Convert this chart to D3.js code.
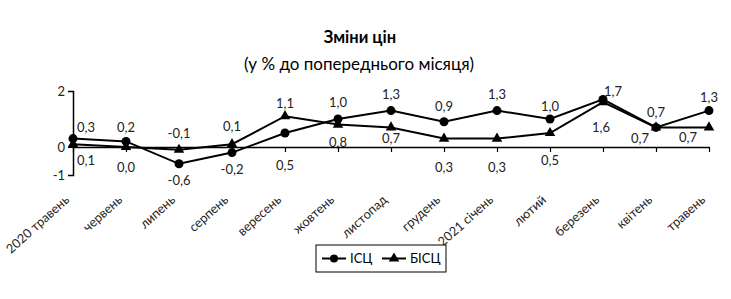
<!DOCTYPE html>
<html lang="uk">
<head>
<meta charset="UTF-8">
<title>Зміни цін</title>
<style>
  body { margin: 0; background: #fff; font-family: Lato, 'Open Sans', sans-serif; }
  svg { display: block; }
  .val { font-size: 13px; fill: #222; }
  .cat { font-size: 12.8px; fill: #222; }
</style>
</head>
<body>
<svg id="chart" width="731" height="299"></svg>
<script src="https://d3js.org/d3.v7.min.js"></script>
<script>
// data
const months = ["2020 травень", "червень", "липень", "серпень", "вересень", "жовтень",
  "листопад", "грудень", "2021 січень", "лютий", "березень", "квітень", "травень"];
const cpi  = [0.3, 0.2, -0.6, -0.2, 0.5, 1.0, 1.3, 0.9, 1.3, 1.0, 1.7, 0.7, 1.3];   // ІСЦ
const bcpi = [0.1, 0.0, -0.1, 0.1, 1.1, 0.8, 0.7, 0.3, 0.3, 0.5, 1.6, 0.7, 0.7];    // БІСЦ
const yTicks = [-1, 0, 2];

const svg = d3.select("#chart");
const fmt = v => v.toFixed(1).replace(".", ",");

const x = d3.scalePoint().domain(months).range([73, 709]);
const y = d3.scaleLinear().domain([-1, 2]).range([175, 91]);

// title
svg.append("text").attr("x", 360).attr("y", 43).attr("text-anchor", "middle")
  .attr("font-size", 16.5).attr("font-weight", "bold").text("Зміни цін");
svg.append("text").attr("x", 359).attr("y", 70).attr("text-anchor", "middle")
  .attr("font-size", 17).text("(у % до попереднього місяця)");

// y axis
const yAxis = svg.append("g").attr("transform", "translate(73,0)")
  .call(d3.axisLeft(y).tickValues(yTicks).tickSize(5).tickFormat(d => d));
yAxis.select(".domain").attr("stroke", "#000").attr("stroke-width", 1.5);
yAxis.selectAll("text").attr("font-size", 13).attr("font-family", "Lato, sans-serif").attr("fill", "#222");

// x axis along zero
const xAxis = svg.append("g").attr("transform", `translate(0,${y(0)})`)
  .call(d3.axisBottom(x).tickSize(5).tickSizeOuter(0).tickFormat(""));
xAxis.select(".domain").attr("stroke", "#000").attr("stroke-width", 1.5);
xAxis.selectAll(".tick line").attr("stroke", "#000").attr("stroke-width", 1.2);

// category labels, rotated
svg.append("g").selectAll("text").data(months).join("text")
  .attr("class", "cat")
  .attr("text-anchor", "end")
  .attr("transform", d => `translate(${x(d) - 3},${y(-1) + 26}) rotate(-42)`)
  .text(d => d);

// lines
const line = arr => d3.line().x((d, i) => x(months[i])).y(d => y(d))(arr);
svg.append("path").attr("d", line(bcpi)).attr("fill", "none").attr("stroke", "#000").attr("stroke-width", 2);
svg.append("path").attr("d", line(cpi)).attr("fill", "none").attr("stroke", "#000").attr("stroke-width", 2);

const tri = d3.symbol().type(d3.symbolTriangle).size(48);
svg.append("g").selectAll("path").data(bcpi).join("path")
  .attr("d", tri).attr("transform", (d, i) => `translate(${x(months[i])},${y(d)})`);
svg.append("g").selectAll("circle").data(cpi).join("circle")
  .attr("cx", (d, i) => x(months[i])).attr("cy", d => y(d)).attr("r", 4.5);

// value labels: higher series above, lower below (offsets as placed in the original)
const aboveDx = [13, 0, 0, 0, 0, 0, 0, 0, 0, 0, 10, 0, 0];
const belowDx = [13, 0, 0, 0, 0, 0, 0, 0, 0, 0, -2, -16, -21];
const aboveDy = [-12, -14, -17, -18, -13, -17, -17, -16, -17, -13, -8, -15, -14];
const belowDy = [16, 20, 16, 16, 32, 17, 11, 28, 28, 27, 25, 11, 10];
const labels = [];
months.forEach((m, i) => {
  const cpiUp = cpi[i] >= bcpi[i];
  labels.push({ i, v: cpi[i], up: cpiUp });
  labels.push({ i, v: bcpi[i], up: !cpiUp });
});
svg.append("g").selectAll("text").data(labels).join("text")
  .attr("class", "val")
  .attr("text-anchor", "middle")
  .attr("dominant-baseline", "central")
  .attr("x", d => x(months[d.i]) + (d.up ? aboveDx[d.i] : belowDx[d.i]))
  .attr("y", d => y(d.v) + (d.up ? aboveDy[d.i] : belowDy[d.i]))
  .text(d => fmt(d.v));

// legend
const lg = svg.append("g").attr("transform", "translate(316,245)");
lg.append("rect").attr("width", 130).attr("height", 27).attr("fill", "#fff")
  .attr("stroke", "#000").attr("stroke-width", 1);
lg.append("line").attr("x1", 6).attr("x2", 30).attr("y1", 13.5).attr("y2", 13.5).attr("stroke", "#000").attr("stroke-width", 2);
lg.append("circle").attr("cx", 18).attr("cy", 13.5).attr("r", 4);
lg.append("text").attr("x", 34).attr("y", 18).attr("font-size", 13).text("ІСЦ");
lg.append("line").attr("x1", 66).attr("x2", 90).attr("y1", 13.5).attr("y2", 13.5).attr("stroke", "#000").attr("stroke-width", 2);
lg.append("path").attr("d", tri).attr("transform", "translate(78,13.5)");
lg.append("text").attr("x", 94).attr("y", 18).attr("font-size", 13).text("БІСЦ");
</script>
</body>
</html>
